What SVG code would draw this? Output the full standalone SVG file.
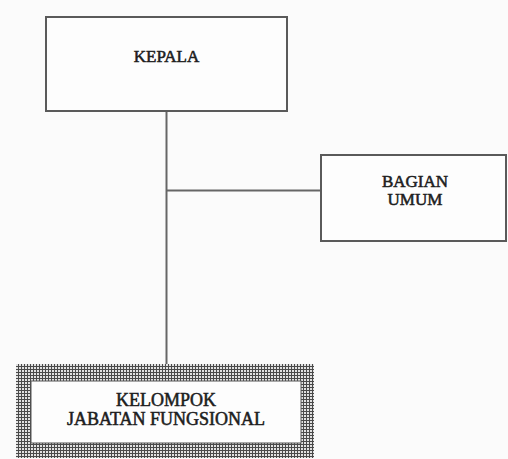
<svg xmlns="http://www.w3.org/2000/svg" width="508" height="459" viewBox="0 0 508 459">
  <style>
    .box { fill: #fdfdfd; stroke: #5a5a5a; stroke-width: 2; }
    .lbl { font-family: "Liberation Serif", "DejaVu Serif", serif; font-size: 17px; fill: #1e1e1e; text-anchor: middle; stroke: #1e1e1e; stroke-width: 0.55; }
    .conn { stroke: #666; stroke-width: 2; fill: none; }
  </style>
  <defs>
    <!-- fine crosshatch used for the framed box -->
    <pattern id="grid" width="3" height="3" patternUnits="userSpaceOnUse">
      <rect width="3" height="3" fill="#e2e2e2"/>
      <rect x="0" y="0" width="3" height="1" fill="#4a4a4a"/>
      <rect x="0" y="0" width="1" height="3" fill="#4a4a4a"/>
    </pattern>
  </defs>
  <rect width="508" height="459" fill="#fbfbfb"/>

  <g id="connectors">
    <line class="conn" x1="166.5" y1="111" x2="166.5" y2="365"/>
    <line class="conn" x1="166.5" y1="190.5" x2="321" y2="190.5"/>
  </g>

  <g id="kepala">
    <rect class="box" x="46" y="17" width="241" height="94"/>
    <text class="lbl" x="166.5" y="62">KEPALA</text>
  </g>

  <g id="bagian-umum">
    <rect class="box" x="321" y="155" width="185" height="86"/>
    <text class="lbl" x="415" y="186.5">BAGIAN</text>
    <text class="lbl" x="415" y="204.5">UMUM</text>
  </g>

  <g id="kelompok-jabatan-fungsional">
    <rect x="16" y="364" width="298" height="94" fill="url(#grid)"/>
    <rect x="31" y="381" width="270" height="62" fill="#fdfdfd" stroke="#555" stroke-width="1"/>
    <text class="lbl" x="166" y="406" style="font-size:18px">KELOMPOK</text>
    <text class="lbl" x="166" y="425" style="font-size:18px">JABATAN FUNGSIONAL</text>
  </g>
</svg>
